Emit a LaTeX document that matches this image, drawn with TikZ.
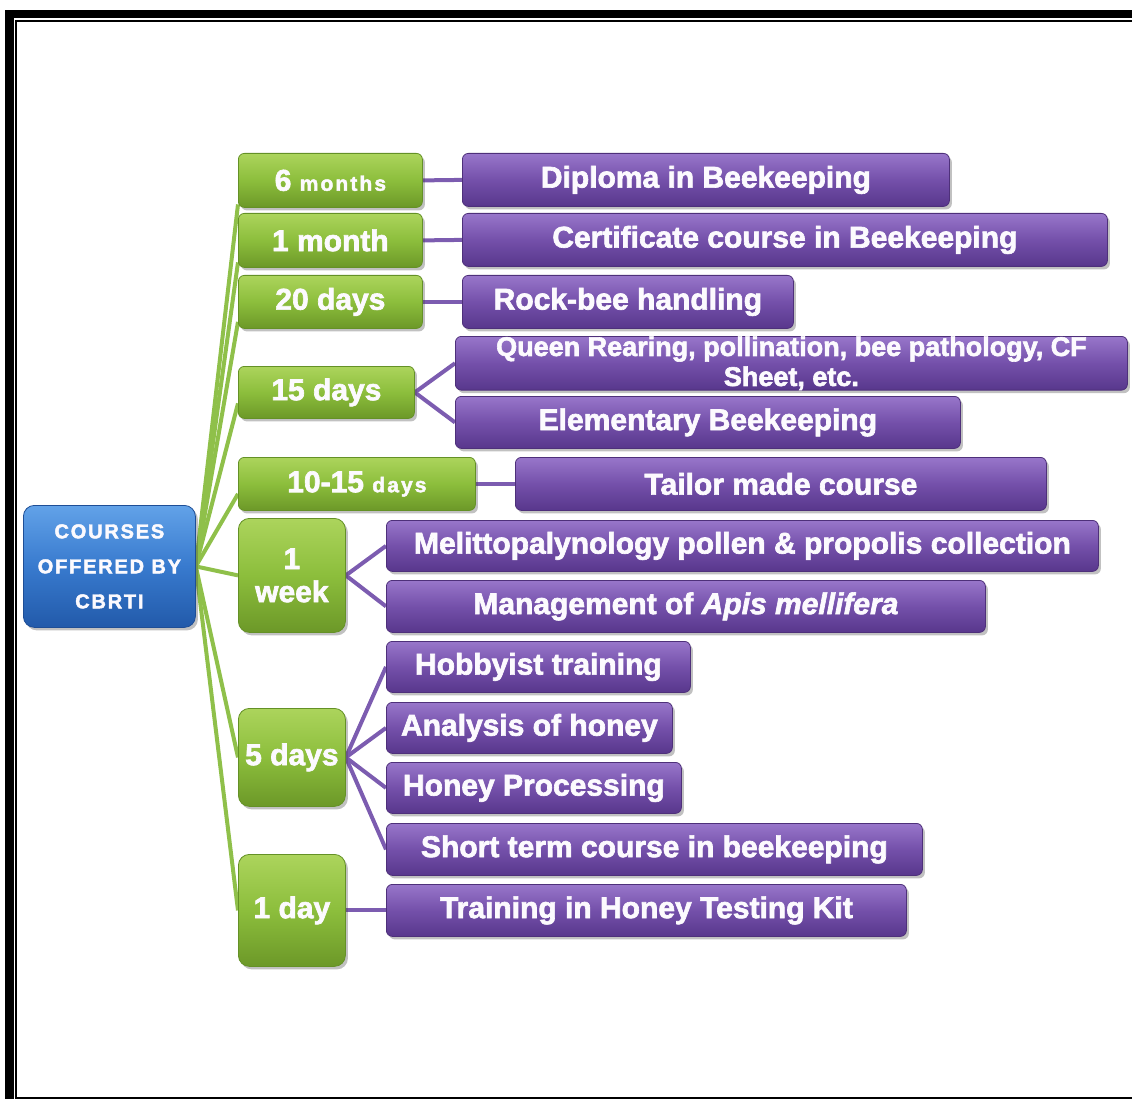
\documentclass[tikz,border=0pt]{standalone}
\usepackage{fontspec}
\usetikzlibrary{shadows,calc,backgrounds}
\newfontfamily\hv{Liberation Sans Bold}[FakeBold=2.2,ItalicFont={Liberation Sans Bold Italic},ItalicFeatures={FakeBold=2.2}]
\definecolor{gTop}{RGB}{172,212,92}
\definecolor{gMid}{RGB}{140,190,60}
\definecolor{gBot}{RGB}{108,152,40}
\definecolor{gEdge}{RGB}{100,145,38}
\definecolor{pTop}{RGB}{152,118,202}
\definecolor{pMid}{RGB}{116,80,170}
\definecolor{pBot}{RGB}{88,55,140}
\definecolor{pEdge}{RGB}{78,48,122}
\definecolor{bTop}{RGB}{98,162,232}
\definecolor{bMid}{RGB}{56,122,206}
\definecolor{bBot}{RGB}{34,90,170}
\definecolor{bEdge}{RGB}{30,78,150}
\definecolor{gLine}{RGB}{143,192,74}
\definecolor{pLine}{RGB}{124,92,176}
\definecolor{txt}{RGB}{252,250,254}
\tikzset{
  basebox/.style={anchor=north west, inner sep=0pt, align=center, text=txt,
    font=\hv\fontsize{30}{33}\selectfont, line width=0.8pt,
    drop shadow={shadow xshift=2.5pt, shadow yshift=-3pt, opacity=0.35, fill=black!70}},
  gbox/.style={basebox, draw=gEdge, rounded corners=6pt, top color=gTop, bottom color=gBot, middle color=gMid},
  gsq/.style={gbox, rounded corners=11pt},
  pbox/.style={basebox, draw=pEdge, rounded corners=6pt, top color=pTop, bottom color=pBot, middle color=pMid},
  rootbox/.style={basebox, draw=bEdge, rounded corners=11pt, top color=bTop, bottom color=bBot, middle color=bMid,
    font=\hv\fontsize{20}{35}\selectfont\addfontfeature{LetterSpace=9}},
  gconn/.style={draw=gLine, line width=4pt},
  pconn/.style={draw=pLine, line width=4pt},
}
\newcommand{\smallsp}[1]{{\fontsize{21}{21}\selectfont\addfontfeature{LetterSpace=10}#1}}
\begin{document}
\begin{tikzpicture}[x=1pt,y=-1pt]
\useasboundingbox (0,0) rectangle (1132,1099);
% frame
\fill[black] (5,10) rectangle (1132,18.5);
\fill[black] (5,10) rectangle (14,1099);
\draw[black, line width=2pt] (16,1099) -- (16,21.5) -- (1132,21.5);
\draw[black, line width=2pt] (16,1097.5) -- (1132,1097.5);

% root
\node[rootbox, minimum width=172pt, minimum height=122pt] (root) at (23,505) {COURSES\\OFFERED BY\\CBRTI};

% durations
\node[gbox, minimum width=184pt, minimum height=54pt] (n1) at (238,153) {6 \smallsp{months}};
\node[gbox, minimum width=184pt, minimum height=54pt] (n2) at (238,213) {1 month};
\node[gbox, minimum width=184pt, minimum height=53pt] (n3) at (238,275) {20 days};
\node[gbox, minimum width=176pt, minimum height=52pt] (n4) at (238,366) {15 days};
\node[gbox, minimum width=237pt, minimum height=53pt] (n5) at (238,457) {10-15 \smallsp{days}};
\node[gsq, minimum width=107pt, minimum height=114pt] (n6) at (238,518) {1\\week};
\node[gsq, minimum width=107pt, minimum height=98pt] (n7) at (238,708) {5 days};
\node[gsq, minimum width=107pt, minimum height=112pt] (n8) at (238,854) {1 day};

% courses
\node[pbox, minimum width=487pt, minimum height=53pt] (p1) at (462,153) {Diploma in Beekeeping};
\node[pbox, minimum width=645pt, minimum height=53pt] (p2) at (462,213) {Certificate course in Beekeeping};
\node[pbox, minimum width=331pt, minimum height=53pt] (p3) at (462,275) {Rock-bee handling};
\node[pbox, minimum width=672pt, minimum height=52pt, font=\hv\fontsize{27}{30}\selectfont] (p4) at (455,336) {Queen Rearing, pollination, bee pathology, CF\\Sheet, etc.};
\node[pbox, minimum width=505pt, minimum height=52pt] (p5) at (455,396) {Elementary Beekeeping};
\node[pbox, minimum width=531pt, minimum height=53pt] (p6) at (515,457) {Tailor made course};
\node[pbox, minimum width=712pt, minimum height=51pt] (p7) at (386,520) {Melittopalynology pollen \& propolis collection};
\node[pbox, minimum width=599pt, minimum height=52pt] (p8) at (386,580) {Management of \textit{Apis mellifera}};
\node[pbox, minimum width=304pt, minimum height=51pt] (p9) at (386,641) {Hobbyist training};
\node[pbox, minimum width=286pt, minimum height=51pt] (p10) at (386,702) {Analysis of honey};
\node[pbox, minimum width=295pt, minimum height=51pt] (p11) at (386,762) {Honey Processing};
\node[pbox, minimum width=536pt, minimum height=52pt] (p12) at (386,823) {Short term course in beekeeping};
\node[pbox, minimum width=520pt, minimum height=52pt] (p13) at (386,884) {Training in Honey Testing Kit};

\begin{pgfonlayer}{background}
\coordinate (hub) at (root.east);
\draw[gconn] (hub) -- ($(n1.west)+(0,24)$);
\draw[gconn] (hub) -- ($(n2.west)+(0,22)$);
\draw[gconn] (hub) -- ($(n3.west)+(0,20)$);
\draw[gconn] (hub) -- ($(n4.west)+(0,11)$);
\draw[gconn] (hub) -- ($(n5.west)+(0,10)$);
\draw[gconn] (hub) -- (n6.west);
\draw[gconn] (hub) -- (n7.west);
\draw[gconn] (hub) -- (n8.west);
\draw[pconn] (n1.east) -- (p1.west);
\draw[pconn] (n2.east) -- (p2.west);
\draw[pconn] (n3.east) -- (p3.west);
\draw[pconn] (n4.east) -- (p4.west);
\draw[pconn] (n4.east) -- (p5.west);
\draw[pconn] (n5.east) -- (p6.west);
\draw[pconn] (n6.east) -- (p7.west);
\draw[pconn] (n6.east) -- (p8.west);
\draw[pconn] (n7.east) -- (p9.west);
\draw[pconn] (n7.east) -- (p10.west);
\draw[pconn] (n7.east) -- (p11.west);
\draw[pconn] (n7.east) -- (p12.west);
\draw[pconn] (n8.east) -- (p13.west);
\end{pgfonlayer}
\end{tikzpicture}
\end{document}
